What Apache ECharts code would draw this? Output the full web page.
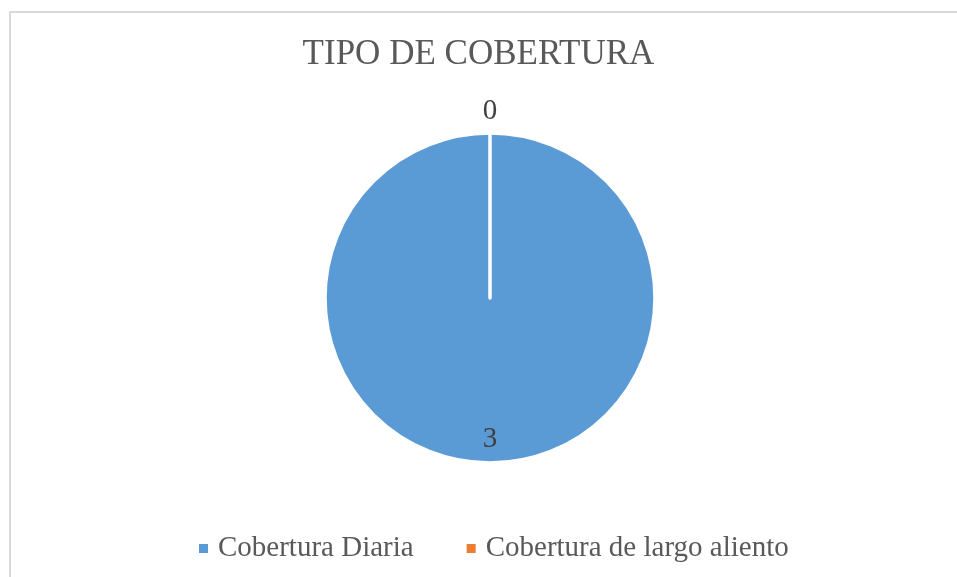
<!DOCTYPE html>
<html>
<head>
<meta charset="utf-8">
<title>TIPO DE COBERTURA</title>
<script src="https://cdn.jsdelivr.net/npm/echarts@6/dist/echarts.min.js"></script>
<style>
  html, body { margin: 0; padding: 0; background: #fff; }
  #frame { position: absolute; left: 9px; top: 11px; width: 980px; height: 600px; border: 2px solid #d9d9d9; box-sizing: border-box; }
  #chart { position: absolute; left: 0; top: 0; width: 957px; height: 577px; }
</style>
</head>
<body>
<div id="frame"></div>
<div id="chart"></div>
<script>
// data
var categories = ['Cobertura Diaria', 'Cobertura de largo aliento'];
var values = [3, 0];
var colors = ['#5b9bd5', '#ed7d31'];

var chart = echarts.init(document.getElementById('chart'), null, { renderer: 'canvas' });

// label offsets push the labels to where Excel put them
var labelOffsets = [[0, 56], [0, -101]];

var option = {
  backgroundColor: 'transparent',
  color: colors,
  textStyle: { fontFamily: '"Liberation Serif", "Times New Roman", serif' },
  title: {
    text: 'TIPO DE COBERTURA',
    left: 'center',
    top: 32,
    textStyle: {
      fontFamily: '"Liberation Serif", "Times New Roman", serif',
      fontSize: 35,
      fontWeight: 'normal',
      color: '#595959'
    }
  },
  legend: {
    top: 529,
    left: 192,
    icon: 'rect',
    itemWidth: 11,
    itemHeight: 11,
    itemGap: 51,
    data: categories,
    textStyle: {
      fontFamily: '"Liberation Serif", "Times New Roman", serif',
      fontSize: 29,
      color: '#595959',
      padding: [0, 0, 0, 4]
    }
  },
  series: [{
    type: 'pie',
    center: [490, 298],
    radius: [0, 165],
    startAngle: 90,
    clockwise: true,
    avoidLabelOverlap: false,
    silent: true,
    itemStyle: {
      borderColor: '#ffffff',
      borderWidth: 3.5
    },
    label: {
      show: true,
      position: 'inside',
      formatter: '{c}',
      fontFamily: '"Liberation Serif", "Times New Roman", serif',
      fontSize: 29,
      color: '#404040'
    },
    labelLine: { show: false },
    data: categories.map(function (name, i) {
      return {
        name: name,
        value: values[i],
        label: { offset: labelOffsets[i] }
      };
    })
  }]
};

chart.setOption(option);
</script>
</body>
</html>
